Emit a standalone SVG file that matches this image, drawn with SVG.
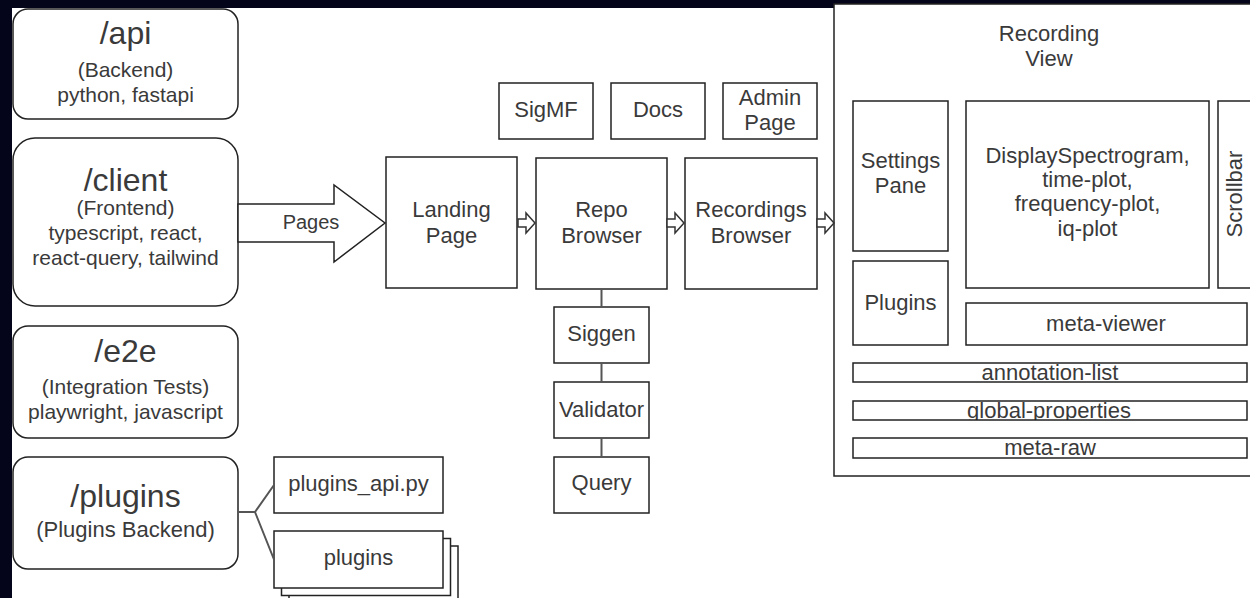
<svg xmlns="http://www.w3.org/2000/svg" width="1250" height="598" viewBox="0 0 1250 598">
<style>
.bg{fill:#04041a}
.box{fill:#fff;stroke:#222;stroke-width:1.5}
.nb{fill:none;stroke:#222;stroke-width:1.5}
.t{font-family:"Liberation Sans",Arial,Helvetica,sans-serif;font-size:22px;fill:#3a3a3a;text-anchor:middle}
.s{font-size:21px}
.ti{font-size:32px}
.pg{font-size:20px}
.conn{fill:none;stroke:#555;stroke-width:2}
.harrow{fill:#fff;stroke:#333;stroke-width:1.5;stroke-linejoin:miter}
</style>
<defs>
<clipPath id="cAnn"><rect x="853" y="363" width="394" height="19"/></clipPath>
<clipPath id="cGlob"><rect x="853" y="401" width="394" height="19"/></clipPath>
<clipPath id="cRaw"><rect x="853" y="438" width="394" height="20"/></clipPath>
</defs>
<rect x="0" y="0" width="1250" height="598" class="bg"/>
<rect x="12" y="8" width="1238" height="590" fill="#fff"/>

<g id="api">
<rect class="box" x="13" y="9" width="225" height="110" rx="15"/>
<text class="t ti" x="125.5" y="44">/api</text>
<text class="t s" x="125.5" y="77">(Backend)</text>
<text class="t s" x="125.5" y="102">python, fastapi</text>
</g>
<g id="client">
<rect class="box" x="13" y="138" width="225" height="168" rx="22"/>
<text class="t ti" x="125.5" y="191">/client</text>
<text class="t s" x="125.5" y="215">(Frontend)</text>
<text class="t s" x="125.5" y="240">typescript, react,</text>
<text class="t s" x="125.5" y="265">react-query, tailwind</text>
</g>
<g id="e2e">
<rect class="box" x="13" y="326" width="225" height="112" rx="15"/>
<text class="t ti" x="125.5" y="362">/e2e</text>
<text class="t s" x="125.5" y="394">(Integration Tests)</text>
<text class="t s" x="125.5" y="419">playwright, javascript</text>
</g>
<g id="plugins-dir">
<rect class="box" x="13" y="457" width="225" height="112" rx="15"/>
<text class="t ti" x="125.5" y="507">/plugins</text>
<text class="t" x="125.5" y="537">(Plugins Backend)</text>
</g>
<g id="plugins-api">
<rect class="box" x="274" y="457" width="169" height="56"/>
<text class="t" x="358.5" y="491">plugins_api.py</text>
</g>
<g id="plugins">
<rect class="box" x="289" y="546" width="169" height="57"/>
<rect class="box" x="281.5" y="538.5" width="169" height="57"/>
<rect class="box" x="274" y="531" width="169" height="57"/>
<text class="t" x="358.5" y="565">plugins</text>
</g>

<g id="pages-arrow">
<polygon class="box" points="238,204 334,204 334,185 385,223 334,262 334,242 238,242"/>
<text class="t pg" x="311" y="229">Pages</text>
</g>

<g id="landing">
<rect class="box" x="386" y="157" width="131" height="131"/>
<text class="t" x="451.5" y="217">Landing</text>
<text class="t" x="451.5" y="243">Page</text>
</g>
<g id="sigmf">
<rect class="box" x="499" y="83" width="94" height="56"/>
<text class="t" x="546" y="117">SigMF</text>
</g>
<g id="docs">
<rect class="box" x="611" y="83" width="94" height="56"/>
<text class="t" x="658" y="117">Docs</text>
</g>
<g id="admin">
<rect class="box" x="723" y="83" width="94" height="56"/>
<text class="t" x="770" y="105">Admin</text>
<text class="t" x="770" y="130">Page</text>
</g>
<g id="repo">
<rect class="box" x="536" y="158" width="131" height="131"/>
<text class="t" x="601.5" y="217">Repo</text>
<text class="t" x="601.5" y="243">Browser</text>
</g>
<g id="recordings">
<rect class="box" x="685" y="158" width="132" height="131"/>
<text class="t" x="751" y="217">Recordings</text>
<text class="t" x="751" y="243">Browser</text>
</g>
<g id="siggen">
<rect class="box" x="554" y="307" width="95" height="56"/>
<text class="t" x="601.5" y="341">Siggen</text>
</g>
<g id="validator">
<rect class="box" x="554" y="382" width="95" height="56"/>
<text class="t" x="601.5" y="417">Validator</text>
</g>
<g id="query">
<rect class="box" x="554" y="457" width="95" height="56"/>
<text class="t" x="601.5" y="490">Query</text>
</g>

<g id="recording-view">
<rect class="box" x="834" y="4" width="430" height="472"/>
<text class="t" x="1049" y="41">Recording</text>
<text class="t" x="1049" y="66">View</text>
</g>
<g id="settings-pane">
<rect class="box" x="853" y="101" width="95" height="150"/>
<text class="t" x="900.5" y="168">Settings</text>
<text class="t" x="900.5" y="193">Pane</text>
</g>
<g id="display">
<rect class="box" x="966" y="101" width="243" height="187"/>
<text class="t" x="1087.5" y="163">DisplaySpectrogram,</text>
<text class="t" x="1087.5" y="187">time-plot,</text>
<text class="t" x="1087.5" y="211">frequency-plot,</text>
<text class="t" x="1087.5" y="236">iq-plot</text>
</g>
<g id="scrollbar">
<rect class="box" x="1218" y="101" width="50" height="187"/>
<text class="t" transform="translate(1242,194) rotate(-90)">Scrollbar</text>
</g>
<g id="plugins-pane">
<rect class="box" x="853" y="261" width="95" height="84"/>
<text class="t" x="900.5" y="310">Plugins</text>
</g>
<g id="meta-viewer">
<rect class="box" x="966" y="303" width="281" height="42"/>
<text class="t" x="1106" y="331">meta-viewer</text>
</g>
<g id="annotation-list">
<text class="t" x="1050" y="380" clip-path="url(#cAnn)">annotation-list</text>
<rect class="nb" x="853" y="363" width="394" height="19"/>
</g>
<g id="global-properties">
<text class="t" x="1049" y="418" clip-path="url(#cGlob)">global-properties</text>
<rect class="nb" x="853" y="401" width="394" height="19"/>
</g>
<g id="meta-raw">
<text class="t" x="1050" y="455" clip-path="url(#cRaw)">meta-raw</text>
<rect class="nb" x="853" y="438" width="394" height="20"/>
</g>

<g id="connectors">
<path class="conn" d="M238 512 H255 L274 485 M255 512 L274 559.5"/>
<path class="conn" d="M601.5 289 V307 M601.5 363 V382 M601.5 438 V457"/>
<polygon class="harrow" points="518,219 526,219 526,213 535,223 526,233 526,227 518,227"/>
<polygon class="harrow" points="667,219 675,219 675,213 684,223 675,233 675,227 667,227"/>
<polygon class="harrow" points="817,219 825,219 825,213 834,223 825,233 825,227 817,227"/>
</g>
</svg>
